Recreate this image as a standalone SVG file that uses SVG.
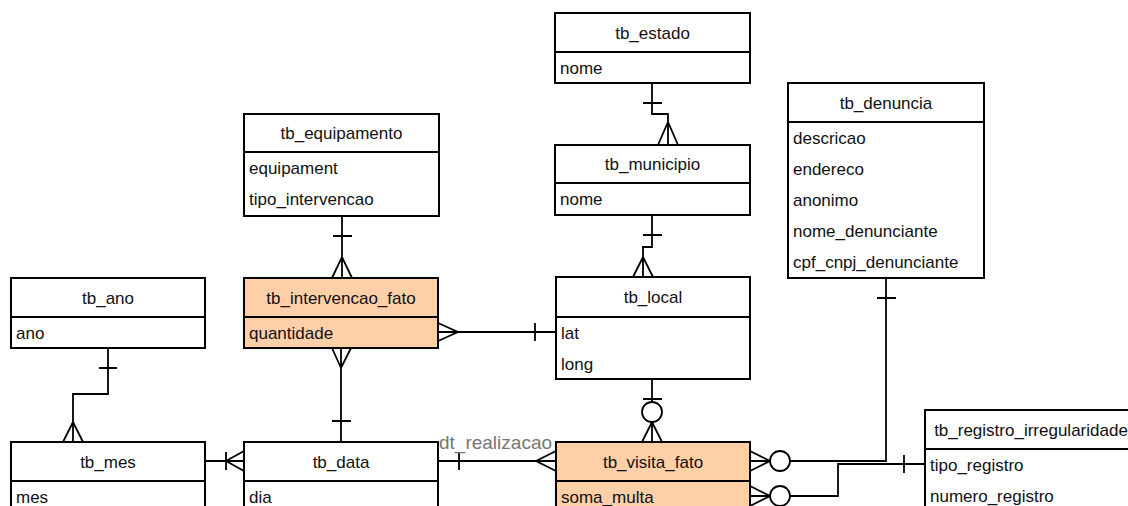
<svg xmlns="http://www.w3.org/2000/svg" width="1128" height="506" viewBox="0 0 1128 506">
<style>
.box{fill:#ffffff;stroke:#000;stroke-width:2}
.fact{fill:#ffcfa8;stroke:#000;stroke-width:2}
.sep{stroke:#000;stroke-width:2}
.h{font-family:"Liberation Sans",Arial,sans-serif;font-size:17px;fill:#111;text-anchor:middle}
.r{font-family:"Liberation Sans",Arial,sans-serif;font-size:17px;fill:#111}
.ln{fill:none;stroke:#000;stroke-width:1.8}
.cir{fill:#fff;stroke:#000;stroke-width:1.8}
.lbl{font-family:"Liberation Sans",Arial,sans-serif;font-size:19px;fill:#777}
</style>
<rect width="1128" height="506" fill="#fff"/>
<g id="connectors">
<g id="c-estado-municipio"><path class="ln" d="M652,83 V114 H668 V145 M643,103 H662 M658,145 L668,122 L678,145"/></g>
<g id="c-municipio-local"><path class="ln" d="M652,216 V247 H643 V277 M643,235 H662 M633,277 L643,257 L653,277"/></g>
<g id="c-equip-interv"><path class="ln" d="M342,216 V278 M333,236 H352 M332,278 L342,257 L352,278"/></g>
<g id="c-ano-mes"><path class="ln" d="M108,348 V394 H73 V442 M99,368 H117 M63,442 L73,422 L83,442"/></g>
<g id="c-interv-data"><path class="ln" d="M341,348 V442 M332,348 L341,368 L351,348 M332,421 H351"/></g>
<g id="c-data-mes"><path class="ln" d="M205,461 H244 M226,452 V470 M244,451 L226,461 L244,471"/></g>
<g id="c-interv-local"><path class="ln" d="M438,332 H556 M438,323 L458,332 L438,341 M535,323 V341"/></g>
<g id="c-local-visita"><path class="ln" d="M652,379 V442 M643,399 H662 M642,442 L652,422 L662,442"/><circle class="cir" cx="652" cy="412" r="10"/></g>
<g id="c-visita-data"><path class="ln" d="M438,461 H556 M459,452 V470 M556,451 L536,461 L556,471"/><text class="lbl" x="439" y="449">dt_realizacao</text></g>
<g id="c-denuncia-visita"><path class="ln" d="M886,278 V461 H750 M877,298 H896 M750,451 L770,461 L750,471"/><circle class="cir" cx="780" cy="461" r="10"/></g>
<g id="c-registro-visita"><path class="ln" d="M925,464 H838 V496 H750 M904,455 V473 M750,486 L770,496 L750,506"/><circle class="cir" cx="780" cy="496" r="10"/></g>
</g>
<g id="tb_estado"><rect class="box" x="555" y="13" width="195" height="70"/><line class="sep" x1="555" y1="52" x2="750" y2="52"/><text class="h" x="652.5" y="38.5">tb_estado</text><text class="r" x="560" y="73.5">nome</text></g>
<g id="tb_municipio"><rect class="box" x="555" y="145" width="195" height="70"/><line class="sep" x1="555" y1="183" x2="750" y2="183"/><text class="h" x="652.5" y="170">tb_municipio</text><text class="r" x="560" y="204.5">nome</text></g>
<g id="tb_equipamento"><rect class="box" x="244" y="114" width="195" height="102"/><line class="sep" x1="244" y1="152" x2="439" y2="152"/><text class="h" x="341.5" y="139">tb_equipamento</text><text class="r" x="249" y="173.5">equipament</text><text class="r" x="249" y="204.5">tipo_intervencao</text></g>
<g id="tb_denuncia"><rect class="box" x="788" y="83" width="196" height="195"/><line class="sep" x1="788" y1="122" x2="984" y2="122"/><text class="h" x="886" y="108.5">tb_denuncia</text><text class="r" x="793" y="143.5">descricao</text><text class="r" x="793" y="174.5">endereco</text><text class="r" x="793" y="205.5">anonimo</text><text class="r" x="793" y="236.5">nome_denunciante</text><text class="r" x="793" y="267.5">cpf_cnpj_denunciante</text></g>
<g id="tb_ano"><rect class="box" x="11" y="278" width="194" height="70"/><line class="sep" x1="11" y1="317" x2="205" y2="317"/><text class="h" x="108" y="303.5">tb_ano</text><text class="r" x="16" y="338.5">ano</text></g>
<g id="tb_intervencao_fato"><rect class="fact" x="244" y="278" width="194" height="70"/><line class="sep" x1="244" y1="317" x2="438" y2="317"/><text class="h" x="341" y="303.5">tb_intervencao_fato</text><text class="r" x="249" y="338.5">quantidade</text></g>
<g id="tb_local"><rect class="box" x="556" y="277" width="194" height="102"/><line class="sep" x1="556" y1="317" x2="750" y2="317"/><text class="h" x="653" y="303">tb_local</text><text class="r" x="561" y="338.5">lat</text><text class="r" x="561" y="369.5">long</text></g>
<g id="tb_mes"><rect class="box" x="11" y="442" width="194" height="80"/><line class="sep" x1="11" y1="481" x2="205" y2="481"/><text class="h" x="108" y="467.5">tb_mes</text><text class="r" x="16" y="502.5">mes</text></g>
<g id="tb_data"><rect class="box" x="244" y="442" width="194" height="80"/><line class="sep" x1="244" y1="481" x2="438" y2="481"/><text class="h" x="341" y="467.5">tb_data</text><text class="r" x="249" y="502.5">dia</text></g>
<g id="tb_visita_fato"><rect class="fact" x="556" y="442" width="194" height="80"/><line class="sep" x1="556" y1="481" x2="750" y2="481"/><text class="h" x="653" y="467.5">tb_visita_fato</text><text class="r" x="561" y="502.5">soma_multa</text></g>
<g id="tb_registro_irregularidade"><rect class="box" x="925" y="410" width="212" height="110"/><line class="sep" x1="925" y1="449" x2="1137" y2="449"/><text class="h" x="1031" y="435.5">tb_registro_irregularidade</text><text class="r" x="930" y="470.5">tipo_registro</text><text class="r" x="930" y="501.5">numero_registro</text></g>
</svg>
